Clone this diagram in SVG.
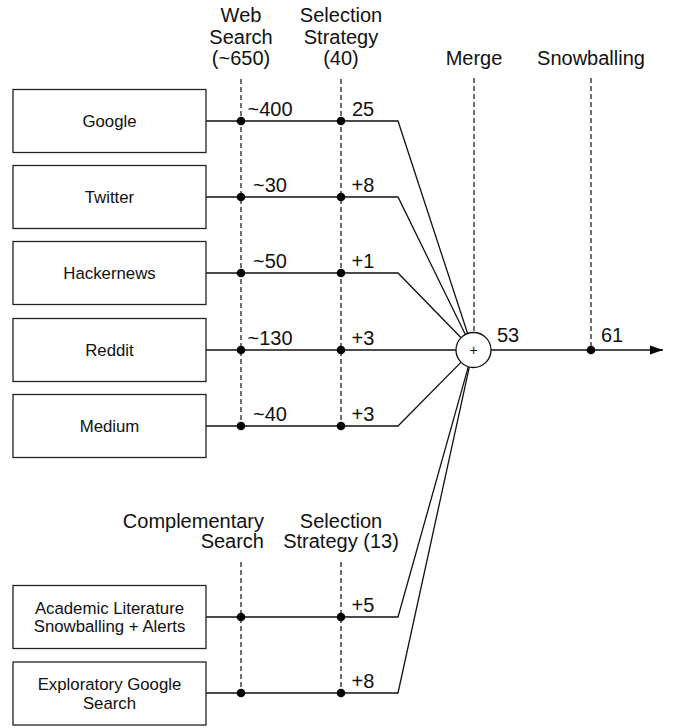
<svg xmlns="http://www.w3.org/2000/svg" width="676" height="728" viewBox="0 0 676 728">
<defs>
<style>
.box{fill:#fff;stroke:#222;stroke-width:1.3}
.bt{font-family:"Liberation Sans",Arial,sans-serif;font-size:16.8px;fill:#111;text-anchor:middle}
.lb{font-family:"Liberation Sans",Arial,sans-serif;font-size:20px;fill:#111;text-anchor:middle}
.ln{fill:none;stroke:#111;stroke-width:1.3}
.ds{fill:none;stroke:#222;stroke-width:1.3;stroke-dasharray:5 3}
.dot{fill:#000}
</style>
<marker id="arr" markerWidth="14" markerHeight="10" refX="13" refY="5" orient="auto" markerUnits="userSpaceOnUse">
<path d="M0,0.5 L13,5 L0,9.5 Z" fill="#000"/>
</marker>
</defs>
<rect width="676" height="728" fill="#fff"/>

<g id="headers">
<text class="lb" x="241" y="22">Web</text>
<text class="lb" x="241" y="44">Search</text>
<text class="lb" x="241" y="65">(~650)</text>
<text class="lb" x="341" y="22">Selection</text>
<text class="lb" x="341" y="44">Strategy</text>
<text class="lb" x="341" y="65">(40)</text>
<text class="lb" x="474" y="65">Merge</text>
<text class="lb" x="591" y="65">Snowballing</text>
<text class="lb" x="264" y="528" style="text-anchor:end">Complementary</text>
<text class="lb" x="264" y="548" style="text-anchor:end">Search</text>
<text class="lb" x="341" y="528">Selection</text>
<text class="lb" x="341" y="548">Strategy (13)</text>
</g>

<g id="connectors">
<line class="ds" x1="241" y1="79" x2="241" y2="426"/>
<line class="ds" x1="341" y1="79" x2="341" y2="426"/>
<line class="ds" x1="474" y1="78" x2="474" y2="332"/>
<line class="ds" x1="591" y1="78" x2="591" y2="350"/>
<line class="ds" x1="241" y1="562" x2="241" y2="693"/>
<line class="ds" x1="341" y1="562" x2="341" y2="693"/>

<polyline class="ln" points="206,121 398,121 467.7,333.8"/>
<polyline class="ln" points="206,197 398,197 465.5,334.7"/>
<polyline class="ln" points="206,273 398,273 461.1,337.8"/>
<polyline class="ln" points="206,350 456,350"/>
<polyline class="ln" points="206,426 398,426 461.1,362.1"/>
<polyline class="ln" points="206,617 398,617 468.4,366.4"/>
<polyline class="ln" points="206,693 398,693 469.4,366.6"/>
<line class="ln" x1="491" y1="350" x2="663" y2="350" marker-end="url(#arr)"/>

<circle class="dot" cx="241" cy="121" r="4.3"/>
<circle class="dot" cx="341" cy="121" r="4.3"/>
<circle class="dot" cx="241" cy="197" r="4.3"/>
<circle class="dot" cx="341" cy="197" r="4.3"/>
<circle class="dot" cx="241" cy="273" r="4.3"/>
<circle class="dot" cx="341" cy="273" r="4.3"/>
<circle class="dot" cx="241" cy="350" r="4.3"/>
<circle class="dot" cx="341" cy="350" r="4.3"/>
<circle class="dot" cx="241" cy="426" r="4.3"/>
<circle class="dot" cx="341" cy="426" r="4.3"/>
<circle class="dot" cx="241" cy="617" r="4.3"/>
<circle class="dot" cx="341" cy="617" r="4.3"/>
<circle class="dot" cx="241" cy="693" r="4.3"/>
<circle class="dot" cx="341" cy="693" r="4.3"/>
<circle class="dot" cx="591" cy="350" r="4.3"/>

<text class="lb" x="270" y="116">~400</text>
<text class="lb" x="363" y="116">25</text>
<text class="lb" x="270" y="192">~30</text>
<text class="lb" x="363" y="192">+8</text>
<text class="lb" x="270" y="268">~50</text>
<text class="lb" x="363" y="268">+1</text>
<text class="lb" x="270" y="345">~130</text>
<text class="lb" x="363" y="345">+3</text>
<text class="lb" x="270" y="421">~40</text>
<text class="lb" x="363" y="421">+3</text>
<text class="lb" x="363" y="612">+5</text>
<text class="lb" x="363" y="688">+8</text>
<text class="lb" x="508" y="342">53</text>
<text class="lb" x="612" y="342">61</text>
</g>

<g id="merge">
<circle cx="473.5" cy="350" r="17.5" fill="#fff" stroke="#111" stroke-width="1.3"/>
<text x="473.5" y="355" style="font-family:'Liberation Sans',Arial,sans-serif;font-size:14px;text-anchor:middle;fill:#111">+</text>
</g>

<g id="google"><rect class="box" x="13" y="89.5" width="193" height="63"/><text class="bt" x="109.5" y="127">Google</text></g>
<g id="twitter"><rect class="box" x="13" y="165.5" width="193" height="63"/><text class="bt" x="109.5" y="203">Twitter</text></g>
<g id="hackernews"><rect class="box" x="13" y="241.5" width="193" height="63"/><text class="bt" x="109.5" y="279">Hackernews</text></g>
<g id="reddit"><rect class="box" x="13" y="318.5" width="193" height="63"/><text class="bt" x="109.5" y="356">Reddit</text></g>
<g id="medium"><rect class="box" x="13" y="394.5" width="193" height="63"/><text class="bt" x="109.5" y="432">Medium</text></g>
<g id="academic"><rect class="box" x="13" y="585.5" width="193" height="63"/><text class="bt" x="109.5" y="614">Academic Literature</text><text class="bt" x="109.5" y="632">Snowballing + Alerts</text></g>
<g id="exploratory"><rect class="box" x="13" y="662" width="193" height="63"/><text class="bt" x="109.5" y="690">Exploratory Google</text><text class="bt" x="109.5" y="709">Search</text></g>
</svg>
